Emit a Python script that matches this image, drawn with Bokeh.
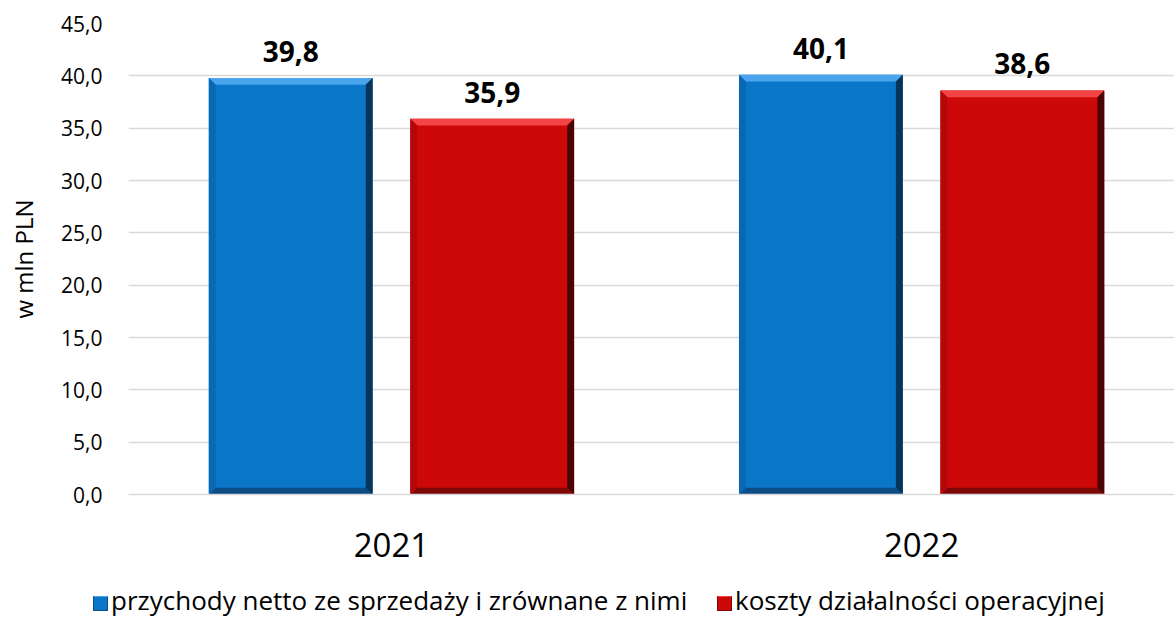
from bokeh.plotting import figure
from bokeh.layouts import column
from bokeh.models import (ColumnDataSource, CustomJSTickFormatter, Div,
                          SingleIntervalTicker, FixedTicker, Range1d)
from bokeh.core.properties import value
from bokeh.embed import file_html
from bokeh.resources import INLINE

years = ["2021", "2022"]
revenue = [39.8, 40.1]
costs = [35.9, 38.6]
series_names = ["przychody netto ze sprzedaży i zrównane z nimi", "koszty działalności operacyjnej"]

FONT = "Open Sans"
BLUE = ("#0A76C8", "#4AA5EE", "#0B4D84", "#06345A", "#0A68B2")
RED = ("#CC0808", "#F24444", "#7E0808", "#4A0404", "#B50707")

def fmt(v):
    return f"{v:.1f}".replace(".", ",")

idx = list(range(len(years)))
W = 0.309
OFF = 0.19
BX = 0.013   # bevel thickness (x units)
BY = 0.65    # bevel thickness (y units)

p = figure(frame_width=1046, frame_height=471, x_range=Range1d(-0.496, 1.477),
           y_range=Range1d(0, 45), output_backend="svg", toolbar_location=None,
           min_border_left=128, min_border_right=0, min_border_top=23, min_border_bottom=84)
p.outline_line_color = None
p.background_fill_color = "white"

def bevel_bars(vals, off, colors):
    main, light, dark, darker, side = colors
    cx = [i + off for i in idx]
    src = ColumnDataSource(dict(x=cx, top=vals, lbl=[fmt(v) for v in vals]))
    p.vbar(x="x", top="top", width=W, source=src, fill_color=main, line_color=None)
    xs_t, ys_t, xs_b, ys_b, xs_r, ys_r, xs_l, ys_l = [], [], [], [], [], [], [], []
    for c, v in zip(cx, vals):
        l, rr = c - W / 2, c + W / 2
        xs_t.append([l, rr, rr - BX, l + BX]); ys_t.append([v, v, v - BY, v - BY])
        xs_b.append([l, rr, rr - BX, l + BX]); ys_b.append([0, 0, BY, BY])
        xs_r.append([rr, rr, rr - BX, rr - BX]); ys_r.append([0, v, v - BY, BY])
        xs_l.append([l, l, l + BX, l + BX]); ys_l.append([0, v, v - BY, BY])
    p.patches(xs_t, ys_t, fill_color=light, line_color=None)
    p.patches(xs_b, ys_b, fill_color=dark, line_color=None)
    p.patches(xs_l, ys_l, fill_color=side, line_color=None)
    p.patches(xs_r, ys_r, fill_color=darker, line_color=None)
    p.text(x="x", y="top", text="lbl", source=src, text_align="center", text_baseline="bottom",
           y_offset=-16, text_font=value(FONT), text_font_size="28px", text_font_style="bold",
           text_color="black")

bevel_bars(revenue, -OFF, BLUE)
bevel_bars(costs, OFF, RED)

p.yaxis.ticker = SingleIntervalTicker(interval=5)
p.yaxis.formatter = CustomJSTickFormatter(code="return tick.toFixed(1).replace('.', ',');")
p.yaxis.axis_line_color = None
p.yaxis.major_tick_line_color = None
p.yaxis.minor_tick_line_color = None
p.yaxis.major_label_text_font = FONT
p.yaxis.major_label_text_font_size = "21px"
p.yaxis.major_label_text_color = "black"
p.yaxis.major_label_standoff = 20
p.yaxis.axis_label = "w mln PLN"
p.yaxis.axis_label_text_font = FONT
p.yaxis.axis_label_text_font_size = "24px"
p.yaxis.axis_label_text_font_style = "normal"
p.yaxis.axis_label_text_color = "black"
p.yaxis.axis_label_standoff = 18

p.xaxis.ticker = FixedTicker(ticks=idx)
p.xaxis.major_label_overrides = {i: y for i, y in zip(idx, years)}
p.xaxis.axis_line_color = "#D9D9D9"
p.xaxis.axis_line_width = 1.5
p.xaxis.major_tick_line_color = None
p.xaxis.minor_tick_line_color = None
p.xaxis.major_label_text_font = FONT
p.xaxis.major_label_text_font_size = "33px"
p.xaxis.major_label_text_color = "black"
p.xaxis.major_label_standoff = 32

p.xgrid.grid_line_color = None
p.ygrid.grid_line_color = "#D9D9D9"
p.ygrid.grid_line_width = 1.5

# legend (HTML strip below the chart)
item_left = [88, 712]
items_html = ""
for name, col, x in zip(series_names, [BLUE, RED], item_left):
    items_html += (
        f'<span style="position:absolute;left:{x}px;top:0;white-space:nowrap;">'
        f'<span style="display:inline-block;width:15px;height:15px;background:{col[0]};'
        f'border:1px solid {col[2]};border-top-color:{col[1]};margin-right:3px;'
        f'vertical-align:-1px;"></span>{name}</span>'
    )
html = (f'<div style="position:relative;width:1174px;height:45px;font-family:\'{FONT}\';'
        f'font-size:26px;line-height:34px;color:black;">{items_html}</div>')
leg = Div(text=html, width=1174, height=45)

layout = column(p, leg, spacing=0)
open("out.html", "w").write(file_html(layout, INLINE))
